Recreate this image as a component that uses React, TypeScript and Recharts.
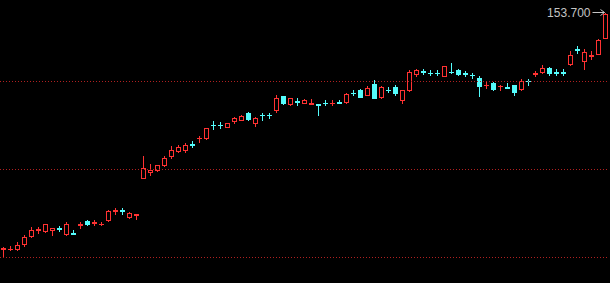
import { Bar, ComposedChart, ReferenceDot, ReferenceLine, XAxis, YAxis } from "recharts";

const OPEN = [
  141.89, 141.88, 141.9, 142.15, 142.52, 142.84, 142.77, 142.82, 142.91, 142.64,
  142.68, 143.09, 143.29, 143.2, 143.13, 143.32, 143.78, 143.81, 143.47, 143.59,
  145.44, 145.73, 145.82, 146.07, 146.52, 146.77, 146.85, 147.11, 147.4, 147.43,
  148.1, 148.1, 147.99, 148.26, 148.33, 148.66, 148.19, 148.59, 148.58, 148.82,
  149.5, 149.13, 149.26, 149.18, 149.14, 149.12, 149.2, 149.18, 149.21, 149.24,
  149.69, 149.81, 149.58, 150.14, 149.47, 149.85, 149.98, 149.32, 149.8, 150.63,
  150.75, 150.69, 150.68, 150.53, 150.74, 150.84, 150.66, 150.58, 150.44, 150.05,
  150.19, 150.01, 149.96, 150.05, 149.87, 150.28, 150.64, 150.72, 150.91, 150.73,
  150.73, 151.1, 151.86, 151.27, 151.53, 151.63, 152.43,
];
const HIGH = [
  141.99, 142.02, 142.22, 142.59, 142.99, 142.99, 143.15, 142.95, 143.02, 143.24,
  142.85, 143.24, 143.3, 143.35, 143.22, 143.85, 143.94, 143.94, 143.72, 143.63,
  146.52, 146.14, 146.08, 146.52, 147.02, 147.05, 147.19, 147.27, 147.53, 147.94,
  148.29, 148.24, 148.17, 148.47, 148.59, 148.72, 148.47, 148.69, 148.68, 149.59,
  149.54, 149.44, 149.4, 149.38, 149.38, 149.13, 149.3, 149.3, 149.33, 149.7,
  149.8, 149.87, 150.0, 150.34, 150.02, 149.99, 150.1, 149.85, 150.83, 150.87,
  150.87, 150.83, 150.83, 151.03, 151.19, 150.89, 150.78, 150.69, 150.54, 150.23,
  150.22, 150.05, 150.18, 150.1, 150.39, 150.39, 150.77, 151.05, 150.99, 150.85,
  150.85, 151.75, 152.02, 151.85, 151.75, 152.38, 153.7,
];
const LOW = [
  141.52, 141.84, 141.85, 142.02, 142.49, 142.69, 142.74, 142.6, 142.77, 142.6,
  142.64, 142.94, 143.1, 143.07, 143.09, 143.27, 143.63, 143.64, 143.44, 143.37,
  145.43, 145.6, 145.78, 146.02, 146.44, 146.74, 146.73, 146.99, 147.25, 147.39,
  147.87, 147.9, 147.98, 148.19, 148.3, 148.32, 148.03, 148.34, 148.43, 148.71,
  149.14, 149.08, 149.1, 149.15, 149.13, 148.55, 149.08, 149.1, 149.15, 149.15,
  149.55, 149.47, 149.55, 149.41, 149.44, 149.72, 149.6, 149.15, 149.75, 150.54,
  150.62, 150.55, 150.55, 150.5, 150.65, 150.58, 150.54, 150.45, 149.53, 149.93,
  149.84, 149.85, 149.93, 149.58, 149.85, 150.1, 150.52, 150.69, 150.6, 150.6,
  150.55, 151.08, 151.69, 150.89, 151.35, 151.6, 152.4,
];
const CLOSE = [
  141.95, 141.9, 142.1, 142.49, 142.85, 142.87, 143.12, 142.94, 142.89, 143.14,
  142.65, 143.11, 143.15, 143.23, 143.15, 143.77, 143.8, 143.79, 143.69, 143.61,
  145.94, 145.83, 146.05, 146.42, 146.8, 146.98, 147.1, 147.09, 147.43, 147.9,
  148.08, 148.08, 148.15, 148.44, 148.54, 148.36, 148.44, 148.56, 148.55, 149.4,
  149.17, 149.42, 149.24, 149.34, 149.16, 149.1, 149.18, 149.2, 149.19, 149.64,
  149.66, 149.49, 149.93, 149.45, 149.98, 149.83, 149.69, 149.8, 150.73, 150.8,
  150.73, 150.67, 150.65, 151.0, 150.72, 150.61, 150.64, 150.55, 150.01, 150.08,
  149.86, 150.04, 149.94, 149.71, 150.27, 150.25, 150.66, 150.9, 150.65, 150.7,
  150.7, 151.55, 151.84, 151.72, 151.55, 152.32, 153.6,
];
const GRID_LEVELS = [150.25, 145.85, 141.45];
const Y_DOMAIN: [number, number] = [140.175, 154.325];

const UP = "#ff3232";
const DOWN = "#54fcfc";

const data = OPEN.map((open, i) => ({
  day: i + 1,
  open,
  high: HIGH[i],
  low: LOW[i],
  close: CLOSE[i],
}));

const last = data[data.length - 1];
const maxHigh = Math.max(...HIGH);

function Candle(props: any) {
  const { x, y, width, height, payload } = props;
  if (!payload) return null;
  const { open, close, high, low } = payload;
  const top = Math.min(y, y + height);
  const span = Math.abs(height);
  const k = high === low ? 0 : span / (high - low);
  const py = (v: number) => top + (high - v) * k;

  const up = close >= open;
  const color = up ? UP : DOWN;
  const cx = Math.floor(x + width / 2) + 0.5;
  const left = Math.round(x);
  const w = Math.round(width);
  const yHigh = Math.round(py(high));
  const yLow = Math.round(py(low));
  const yTop = Math.round(py(Math.max(open, close)));
  const yBot = Math.round(py(Math.min(open, close)));

  // doji: body thinner than a pixel, draw a cross
  if (yBot - yTop < 1) {
    return (
      <g>
        <line x1={cx} x2={cx} y1={yHigh} y2={yLow + 1} stroke={color} />
        <line x1={left} x2={left + w} y1={yTop + 0.5} y2={yTop + 0.5} stroke={color} />
      </g>
    );
  }

  if (up) {
    return (
      <g>
        <line x1={cx} x2={cx} y1={yHigh} y2={yTop} stroke={color} />
        <line x1={cx} x2={cx} y1={yBot + 1} y2={yLow + 1} stroke={color} />
        <rect
          x={left + 0.5}
          y={yTop + 0.5}
          width={w - 1}
          height={yBot - yTop}
          fill="#000"
          stroke={color}
        />
      </g>
    );
  }

  return (
    <g>
      <line x1={cx} x2={cx} y1={yHigh} y2={yLow + 1} stroke={color} />
      <rect x={left} y={yTop} width={w} height={yBot - yTop + 1} fill={color} />
    </g>
  );
}

function MaxMarker(props: any) {
  const { cx, cy } = props;
  const ay = Math.round(cy) - 0.5;
  return (
    <g>
      <text
        x={cx - 15}
        y={ay + 4.5}
        textAnchor="end"
        fontSize={12}
        fontFamily="'Liberation Sans', Arial, sans-serif"
        fill="#c4c4c4"
      >
        {maxHigh.toFixed(3)}
      </text>
      <line x1={cx - 13} x2={cx - 1} y1={ay} y2={ay} stroke="#c4c4c4" />
      <path
        d={`M${cx - 5},${ay - 3} L${cx - 1},${ay} L${cx - 5},${ay + 3}`}
        fill="none"
        stroke="#c4c4c4"
      />
    </g>
  );
}

export default function App() {
  return (
    <div style={{ width: 610, height: 283, background: "#000" }}>
      <style>{`body { margin: 0; background: #000; }`}</style>
      <ComposedChart
        width={610}
        height={283}
        data={data}
        margin={{ top: 0, right: 1, bottom: 0, left: 0 }}
      >
        <XAxis dataKey="day" type="category" hide />
        <YAxis type="number" domain={Y_DOMAIN} allowDataOverflow hide />
        {GRID_LEVELS.map((level) => (
          <ReferenceLine
            key={level}
            y={level}
            stroke="#b02020"
            strokeDasharray="1 2"
          />
        ))}
        <Bar
          dataKey={(d: any) => [d.low, d.high]}
          barSize={5}
          shape={<Candle />}
          isAnimationActive={false}
        />
        <ReferenceDot x={last.day} y={maxHigh} shape={<MaxMarker />} />
      </ComposedChart>
    </div>
  );
}
